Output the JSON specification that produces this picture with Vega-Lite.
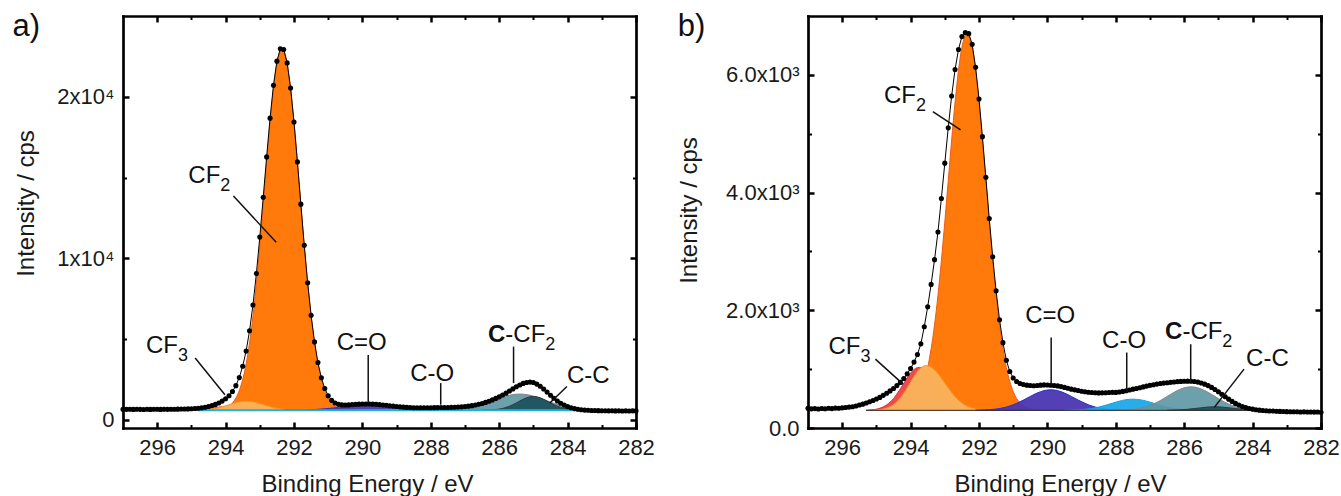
{
  "$schema": "https://vega.github.io/schema/vega-lite/v6.json",
  "background": "white",
  "padding": {"left": 12, "top": 11, "right": 6, "bottom": 0},
  "autosize": {"type": "pad"},
  "spacing": 172,
  "bounds": "flush",
  "config": {
    "view": {"stroke": null},
    "font": "Liberation Sans",
    "axis": {"grid": false, "labelFont": "Liberation Sans", "titleFont": "Liberation Sans", "labelFontSize": 22, "titleFontSize": 24, "titleFontWeight": "normal", "labelColor": "#1a1a1a", "titleColor": "#1a1a1a", "tickColor": "black", "domainColor": "black", "labelFlush": false, "labelOverlap": false, "labelBound": false},
    "text": {"font": "Liberation Sans", "color": "#111111"}
  },
  "datasets": {
    "specA": [
      {"be":297.0,"cps":665},{"be":296.9,"cps":655},{"be":296.8,"cps":660},{"be":296.7,"cps":650},{"be":296.6,"cps":662},{"be":296.5,"cps":655},{"be":296.4,"cps":648},{"be":296.3,"cps":660},{"be":296.2,"cps":652},{"be":296.1,"cps":665},
      {"be":296.0,"cps":658},{"be":295.9,"cps":650},{"be":295.8,"cps":662},{"be":295.7,"cps":655},{"be":295.6,"cps":665},{"be":295.5,"cps":662},{"be":295.4,"cps":668},{"be":295.3,"cps":672},{"be":295.2,"cps":675},{"be":295.1,"cps":682},
      {"be":295.0,"cps":690},{"be":294.9,"cps":705},{"be":294.8,"cps":720},{"be":294.7,"cps":748},{"be":294.6,"cps":785},{"be":294.5,"cps":832},{"be":294.4,"cps":890},{"be":294.3,"cps":960},{"be":294.2,"cps":1050},{"be":294.1,"cps":1165},
      {"be":294.0,"cps":1310},{"be":293.9,"cps":1500},{"be":293.8,"cps":1760},{"be":293.7,"cps":2120},{"be":293.6,"cps":2620},{"be":293.5,"cps":3320},{"be":293.4,"cps":4260},{"be":293.3,"cps":5516},{"be":293.2,"cps":7116},{"be":293.1,"cps":9062},
      {"be":293.0,"cps":11316},{"be":292.9,"cps":13778},{"be":292.8,"cps":16280},{"be":292.7,"cps":18679},{"be":292.6,"cps":20718},{"be":292.5,"cps":22205},{"be":292.4,"cps":22976},{"be":292.3,"cps":22931},{"be":292.2,"cps":22096},{"be":292.1,"cps":20540},
      {"be":292.0,"cps":18438},{"be":291.9,"cps":15971},{"be":291.8,"cps":13355},{"be":291.7,"cps":10813},{"be":291.6,"cps":8485},{"be":291.5,"cps":6475},{"be":291.4,"cps":4830},{"be":291.3,"cps":3552},{"be":291.2,"cps":2608},{"be":291.1,"cps":1943},
      {"be":291.0,"cps":1500},{"be":290.9,"cps":1212},{"be":290.8,"cps":1050},{"be":290.7,"cps":965},{"be":290.6,"cps":929},{"be":290.5,"cps":922},{"be":290.4,"cps":931},{"be":290.3,"cps":947},{"be":290.2,"cps":963},{"be":290.1,"cps":975},
      {"be":290.0,"cps":985},{"be":289.9,"cps":990},{"be":289.8,"cps":986},{"be":289.7,"cps":979},{"be":289.6,"cps":966},{"be":289.5,"cps":949},{"be":289.4,"cps":928},{"be":289.3,"cps":904},{"be":289.2,"cps":880},{"be":289.1,"cps":857},
      {"be":289.0,"cps":834},{"be":288.9,"cps":809},{"be":288.8,"cps":790},{"be":288.7,"cps":776},{"be":288.6,"cps":765},{"be":288.5,"cps":757},{"be":288.4,"cps":751},{"be":288.3,"cps":749},{"be":288.2,"cps":749},{"be":288.1,"cps":749},
      {"be":288.0,"cps":751},{"be":287.9,"cps":758},{"be":287.8,"cps":762},{"be":287.7,"cps":766},{"be":287.6,"cps":766},{"be":287.5,"cps":772},{"be":287.4,"cps":779},{"be":287.3,"cps":786},{"be":287.2,"cps":797},{"be":287.1,"cps":810},
      {"be":287.0,"cps":829},{"be":286.9,"cps":853},{"be":286.8,"cps":883},{"be":286.7,"cps":922},{"be":286.6,"cps":967},{"be":286.5,"cps":1020},{"be":286.4,"cps":1086},{"be":286.3,"cps":1159},{"be":286.2,"cps":1240},{"be":286.1,"cps":1331},
      {"be":286.0,"cps":1429},{"be":285.9,"cps":1538},{"be":285.8,"cps":1658},{"be":285.7,"cps":1786},{"be":285.6,"cps":1919},{"be":285.5,"cps":2052},{"be":285.4,"cps":2163},{"be":285.3,"cps":2260},{"be":285.2,"cps":2320},{"be":285.1,"cps":2340},
      {"be":285.0,"cps":2312},{"be":284.9,"cps":2216},{"be":284.8,"cps":2080},{"be":284.7,"cps":1911},{"be":284.6,"cps":1721},{"be":284.5,"cps":1528},{"be":284.4,"cps":1344},{"be":284.3,"cps":1173},{"be":284.2,"cps":1032},{"be":284.1,"cps":916},
      {"be":284.0,"cps":825},{"be":283.9,"cps":750},{"be":283.8,"cps":700},{"be":283.7,"cps":662},{"be":283.6,"cps":630},{"be":283.5,"cps":608},{"be":283.4,"cps":595},{"be":283.3,"cps":586},{"be":283.2,"cps":580},{"be":283.1,"cps":574},
      {"be":283.0,"cps":570},{"be":282.9,"cps":566},{"be":282.8,"cps":560},{"be":282.7,"cps":565},{"be":282.6,"cps":558},{"be":282.5,"cps":562},{"be":282.4,"cps":555},{"be":282.3,"cps":560},{"be":282.2,"cps":556},{"be":282.1,"cps":562},
      {"be":282.0,"cps":558}
    ],
    "specB": [
      {"be":297.0,"cps":335},{"be":296.9,"cps":325},{"be":296.8,"cps":330},{"be":296.7,"cps":322},{"be":296.6,"cps":332},{"be":296.5,"cps":328},{"be":296.4,"cps":335},{"be":296.3,"cps":330},{"be":296.2,"cps":338},{"be":296.1,"cps":335},
      {"be":296.0,"cps":342},{"be":295.9,"cps":348},{"be":295.8,"cps":355},{"be":295.7,"cps":362},{"be":295.6,"cps":375},{"be":295.5,"cps":390},{"be":295.4,"cps":405},{"be":295.3,"cps":425},{"be":295.2,"cps":445},{"be":295.1,"cps":468},
      {"be":295.0,"cps":492},{"be":294.9,"cps":520},{"be":294.8,"cps":555},{"be":294.7,"cps":590},{"be":294.6,"cps":630},{"be":294.5,"cps":672},{"be":294.4,"cps":720},{"be":294.3,"cps":775},{"be":294.2,"cps":840},{"be":294.1,"cps":920},
      {"be":294.0,"cps":1010},{"be":293.9,"cps":1120},{"be":293.8,"cps":1250},{"be":293.7,"cps":1430},{"be":293.6,"cps":1720},{"be":293.5,"cps":2060},{"be":293.4,"cps":2440},{"be":293.3,"cps":2860},{"be":293.2,"cps":3330},{"be":293.1,"cps":3900},
      {"be":293.0,"cps":4500},{"be":292.9,"cps":5100},{"be":292.8,"cps":5640},{"be":292.7,"cps":6090},{"be":292.6,"cps":6430},{"be":292.5,"cps":6650},{"be":292.4,"cps":6720},{"be":292.3,"cps":6700},{"be":292.2,"cps":6520},{"be":292.1,"cps":6130},
      {"be":292.0,"cps":5590},{"be":291.9,"cps":4950},{"be":291.8,"cps":4260},{"be":291.7,"cps":3560},{"be":291.6,"cps":2910},{"be":291.5,"cps":2330},{"be":291.4,"cps":1840},{"be":291.3,"cps":1450},{"be":291.2,"cps":1150},{"be":291.1,"cps":960},
      {"be":291.0,"cps":850},{"be":290.9,"cps":790},{"be":290.8,"cps":755},{"be":290.7,"cps":738},{"be":290.6,"cps":728},{"be":290.5,"cps":722},{"be":290.4,"cps":718},{"be":290.3,"cps":722},{"be":290.2,"cps":728},{"be":290.1,"cps":732},
      {"be":290.0,"cps":730},{"be":289.9,"cps":726},{"be":289.8,"cps":722},{"be":289.7,"cps":715},{"be":289.6,"cps":703},{"be":289.5,"cps":690},{"be":289.4,"cps":675},{"be":289.3,"cps":660},{"be":289.2,"cps":648},{"be":289.1,"cps":636},
      {"be":289.0,"cps":625},{"be":288.9,"cps":615},{"be":288.8,"cps":608},{"be":288.7,"cps":602},{"be":288.6,"cps":598},{"be":288.5,"cps":596},{"be":288.4,"cps":597},{"be":288.3,"cps":600},{"be":288.2,"cps":604},{"be":288.1,"cps":606},
      {"be":288.0,"cps":605},{"be":287.9,"cps":612},{"be":287.8,"cps":622},{"be":287.7,"cps":633},{"be":287.6,"cps":645},{"be":287.5,"cps":660},{"be":287.4,"cps":672},{"be":287.3,"cps":685},{"be":287.2,"cps":698},{"be":287.1,"cps":712},
      {"be":287.0,"cps":725},{"be":286.9,"cps":735},{"be":286.8,"cps":746},{"be":286.7,"cps":755},{"be":286.6,"cps":763},{"be":286.5,"cps":770},{"be":286.4,"cps":776},{"be":286.3,"cps":782},{"be":286.2,"cps":788},{"be":286.1,"cps":792},
      {"be":286.0,"cps":795},{"be":285.9,"cps":796},{"be":285.8,"cps":795},{"be":285.7,"cps":790},{"be":285.6,"cps":780},{"be":285.5,"cps":765},{"be":285.4,"cps":745},{"be":285.3,"cps":720},{"be":285.2,"cps":690},{"be":285.1,"cps":655},
      {"be":285.0,"cps":615},{"be":284.9,"cps":573},{"be":284.8,"cps":530},{"be":284.7,"cps":490},{"be":284.6,"cps":452},{"be":284.5,"cps":418},{"be":284.4,"cps":390},{"be":284.3,"cps":366},{"be":284.2,"cps":347},{"be":284.1,"cps":332},
      {"be":284.0,"cps":320},{"be":283.9,"cps":310},{"be":283.8,"cps":303},{"be":283.7,"cps":298},{"be":283.6,"cps":293},{"be":283.5,"cps":290},{"be":283.4,"cps":288},{"be":283.3,"cps":284},{"be":283.2,"cps":282},{"be":283.1,"cps":280},
      {"be":283.0,"cps":278},{"be":282.9,"cps":277},{"be":282.8,"cps":275},{"be":282.7,"cps":276},{"be":282.6,"cps":273},{"be":282.5,"cps":274},{"be":282.4,"cps":271},{"be":282.3,"cps":272},{"be":282.2,"cps":270},{"be":282.1,"cps":271},
      {"be":282.0,"cps":268}
    ],
    "fitA": [
      {"peak":"CF2","be":294.6,"cps":600},{"peak":"CF2","be":294.4,"cps":609},{"peak":"CF2","be":294.3,"cps":619},{"peak":"CF2","be":294.2,"cps":638},{"peak":"CF2","be":294.1,"cps":674},{"peak":"CF2","be":294.0,"cps":740},{"peak":"CF2","be":293.9,"cps":855},{"peak":"CF2","be":293.8,"cps":1045},{"peak":"CF2","be":293.7,"cps":1350},{"peak":"CF2","be":293.6,"cps":1817},{"peak":"CF2","be":293.5,"cps":2503},{"peak":"CF2","be":293.4,"cps":3466},{"peak":"CF2","be":293.3,"cps":4760},{"peak":"CF2","be":293.2,"cps":6418},{"peak":"CF2","be":293.1,"cps":8438},{"peak":"CF2","be":293.0,"cps":10774},{"peak":"CF2","be":292.9,"cps":13322},{"peak":"CF2","be":292.8,"cps":15927},{"peak":"CF2","be":292.7,"cps":18391},{"peak":"CF2","be":292.6,"cps":20494},{"peak":"CF2","be":292.5,"cps":22033},{"peak":"CF2","be":292.4,"cps":22846},{"peak":"CF2","be":292.35,"cps":22950},{"peak":"CF2","be":292.3,"cps":22846},{"peak":"CF2","be":292.2,"cps":22033},{"peak":"CF2","be":292.1,"cps":20494},{"peak":"CF2","be":292.0,"cps":18391},{"peak":"CF2","be":291.9,"cps":15927},{"peak":"CF2","be":291.8,"cps":13322},{"peak":"CF2","be":291.7,"cps":10774},{"peak":"CF2","be":291.6,"cps":8438},{"peak":"CF2","be":291.5,"cps":6418},{"peak":"CF2","be":291.4,"cps":4760},{"peak":"CF2","be":291.3,"cps":3466},{"peak":"CF2","be":291.2,"cps":2503},{"peak":"CF2","be":291.1,"cps":1817},{"peak":"CF2","be":291.0,"cps":1350},{"peak":"CF2","be":290.9,"cps":1045},{"peak":"CF2","be":290.8,"cps":855},{"peak":"CF2","be":290.7,"cps":740},{"peak":"CF2","be":290.6,"cps":674},{"peak":"CF2","be":290.5,"cps":638},{"peak":"CF2","be":290.4,"cps":619},{"peak":"CF2","be":290.3,"cps":609},{"peak":"CF2","be":290.1,"cps":600},
      {"peak":"CF3a","be":295.6,"cps":600},{"peak":"CF3a","be":295.4,"cps":604},{"peak":"CF3a","be":295.2,"cps":610},{"peak":"CF3a","be":295.0,"cps":624},{"peak":"CF3a","be":294.8,"cps":648},{"peak":"CF3a","be":294.6,"cps":688},{"peak":"CF3a","be":294.4,"cps":739},{"peak":"CF3a","be":294.2,"cps":792},{"peak":"CF3a","be":294.0,"cps":834},{"peak":"CF3a","be":293.8,"cps":850},{"peak":"CF3a","be":293.6,"cps":834},{"peak":"CF3a","be":293.4,"cps":792},{"peak":"CF3a","be":293.2,"cps":739},{"peak":"CF3a","be":293.0,"cps":688},{"peak":"CF3a","be":292.8,"cps":648},{"peak":"CF3a","be":292.6,"cps":624},{"peak":"CF3a","be":292.4,"cps":610},{"peak":"CF3a","be":292.2,"cps":604},{"peak":"CF3a","be":292.0,"cps":600},
      {"peak":"CF3b","be":295.2,"cps":600},{"peak":"CF3b","be":295.0,"cps":605},{"peak":"CF3b","be":294.8,"cps":613},{"peak":"CF3b","be":294.6,"cps":634},{"peak":"CF3b","be":294.4,"cps":680},{"peak":"CF3b","be":294.2,"cps":760},{"peak":"CF3b","be":294.0,"cps":875},{"peak":"CF3b","be":293.8,"cps":1004},{"peak":"CF3b","be":293.6,"cps":1109},{"peak":"CF3b","be":293.4,"cps":1150},{"peak":"CF3b","be":293.2,"cps":1109},{"peak":"CF3b","be":293.0,"cps":1004},{"peak":"CF3b","be":292.8,"cps":875},{"peak":"CF3b","be":292.6,"cps":760},{"peak":"CF3b","be":292.4,"cps":680},{"peak":"CF3b","be":292.2,"cps":634},{"peak":"CF3b","be":292.0,"cps":613},{"peak":"CF3b","be":291.8,"cps":605},{"peak":"CF3b","be":291.6,"cps":600},
      {"peak":"C=O","be":292.3,"cps":600},{"peak":"C=O","be":292.1,"cps":605},{"peak":"C=O","be":291.9,"cps":610},{"peak":"C=O","be":291.7,"cps":619},{"peak":"C=O","be":291.5,"cps":633},{"peak":"C=O","be":291.3,"cps":656},{"peak":"C=O","be":291.1,"cps":688},{"peak":"C=O","be":290.9,"cps":728},{"peak":"C=O","be":290.7,"cps":773},{"peak":"C=O","be":290.5,"cps":820},{"peak":"C=O","be":290.3,"cps":862},{"peak":"C=O","be":290.1,"cps":890},{"peak":"C=O","be":289.9,"cps":900},{"peak":"C=O","be":289.7,"cps":890},{"peak":"C=O","be":289.5,"cps":862},{"peak":"C=O","be":289.3,"cps":820},{"peak":"C=O","be":289.1,"cps":773},{"peak":"C=O","be":288.9,"cps":728},{"peak":"C=O","be":288.7,"cps":688},{"peak":"C=O","be":288.5,"cps":656},{"peak":"C=O","be":288.3,"cps":633},{"peak":"C=O","be":288.1,"cps":619},{"peak":"C=O","be":287.9,"cps":610},{"peak":"C=O","be":287.7,"cps":605},{"peak":"C=O","be":287.5,"cps":600},
      {"peak":"C-O","be":290.2,"cps":600},{"peak":"C-O","be":290.0,"cps":603},{"peak":"C-O","be":289.8,"cps":605},{"peak":"C-O","be":289.6,"cps":609},{"peak":"C-O","be":289.4,"cps":616},{"peak":"C-O","be":289.2,"cps":625},{"peak":"C-O","be":289.0,"cps":639},{"peak":"C-O","be":288.8,"cps":655},{"peak":"C-O","be":288.6,"cps":675},{"peak":"C-O","be":288.4,"cps":696},{"peak":"C-O","be":288.2,"cps":717},{"peak":"C-O","be":288.0,"cps":734},{"peak":"C-O","be":287.8,"cps":746},{"peak":"C-O","be":287.6,"cps":750},{"peak":"C-O","be":287.4,"cps":746},{"peak":"C-O","be":287.2,"cps":734},{"peak":"C-O","be":287.0,"cps":717},{"peak":"C-O","be":286.8,"cps":696},{"peak":"C-O","be":286.6,"cps":675},{"peak":"C-O","be":286.4,"cps":655},{"peak":"C-O","be":286.2,"cps":639},{"peak":"C-O","be":286.0,"cps":625},{"peak":"C-O","be":285.8,"cps":616},{"peak":"C-O","be":285.6,"cps":609},{"peak":"C-O","be":285.4,"cps":605},{"peak":"C-O","be":285.2,"cps":603},{"peak":"C-O","be":285.0,"cps":600},
      {"peak":"C-CF2","be":288.0,"cps":600},{"peak":"C-CF2","be":287.8,"cps":608},{"peak":"C-CF2","be":287.6,"cps":616},{"peak":"C-CF2","be":287.4,"cps":633},{"peak":"C-CF2","be":287.2,"cps":663},{"peak":"C-CF2","be":287.0,"cps":712},{"peak":"C-CF2","be":286.8,"cps":787},{"peak":"C-CF2","be":286.6,"cps":892},{"peak":"C-CF2","be":286.4,"cps":1025},{"peak":"C-CF2","be":286.2,"cps":1178},{"peak":"C-CF2","be":286.0,"cps":1335},{"peak":"C-CF2","be":285.8,"cps":1472},{"peak":"C-CF2","be":285.6,"cps":1566},{"peak":"C-CF2","be":285.4,"cps":1600},{"peak":"C-CF2","be":285.2,"cps":1566},{"peak":"C-CF2","be":285.0,"cps":1472},{"peak":"C-CF2","be":284.8,"cps":1335},{"peak":"C-CF2","be":284.6,"cps":1178},{"peak":"C-CF2","be":284.4,"cps":1025},{"peak":"C-CF2","be":284.2,"cps":892},{"peak":"C-CF2","be":284.0,"cps":787},{"peak":"C-CF2","be":283.8,"cps":712},{"peak":"C-CF2","be":283.6,"cps":663},{"peak":"C-CF2","be":283.4,"cps":633},{"peak":"C-CF2","be":283.2,"cps":616},{"peak":"C-CF2","be":283.0,"cps":608},{"peak":"C-CF2","be":282.8,"cps":600},
      {"peak":"C-C","be":286.5,"cps":600},{"peak":"C-C","be":286.3,"cps":612},{"peak":"C-C","be":286.1,"cps":641},{"peak":"C-C","be":285.9,"cps":711},{"peak":"C-C","be":285.7,"cps":848},{"peak":"C-C","be":285.5,"cps":1053},{"peak":"C-C","be":285.4,"cps":1168},{"peak":"C-C","be":285.3,"cps":1278},{"peak":"C-C","be":285.2,"cps":1369},{"peak":"C-C","be":285.1,"cps":1429},{"peak":"C-C","be":285.0,"cps":1450},{"peak":"C-C","be":284.9,"cps":1429},{"peak":"C-C","be":284.8,"cps":1369},{"peak":"C-C","be":284.7,"cps":1278},{"peak":"C-C","be":284.6,"cps":1168},{"peak":"C-C","be":284.5,"cps":1053},{"peak":"C-C","be":284.3,"cps":848},{"peak":"C-C","be":284.1,"cps":711},{"peak":"C-C","be":283.9,"cps":641},{"peak":"C-C","be":283.7,"cps":612},{"peak":"C-C","be":283.5,"cps":600}
    ],
    "fitB": [
      {"peak":"CF2","be":294.5,"cps":300},{"peak":"CF2","be":294.3,"cps":313},{"peak":"CF2","be":294.2,"cps":323},{"peak":"CF2","be":294.1,"cps":342},{"peak":"CF2","be":294.0,"cps":373},{"peak":"CF2","be":293.9,"cps":423},{"peak":"CF2","be":293.8,"cps":502},{"peak":"CF2","be":293.7,"cps":620},{"peak":"CF2","be":293.6,"cps":790},{"peak":"CF2","be":293.5,"cps":1028},{"peak":"CF2","be":293.4,"cps":1345},{"peak":"CF2","be":293.3,"cps":1752},{"peak":"CF2","be":293.2,"cps":2253},{"peak":"CF2","be":293.1,"cps":2840},{"peak":"CF2","be":293.0,"cps":3498},{"peak":"CF2","be":292.9,"cps":4195},{"peak":"CF2","be":292.8,"cps":4890},{"peak":"CF2","be":292.7,"cps":5535},{"peak":"CF2","be":292.6,"cps":6077},{"peak":"CF2","be":292.5,"cps":6468},{"peak":"CF2","be":292.4,"cps":6674},{"peak":"CF2","be":292.35,"cps":6700},{"peak":"CF2","be":292.3,"cps":6674},{"peak":"CF2","be":292.2,"cps":6468},{"peak":"CF2","be":292.1,"cps":6077},{"peak":"CF2","be":292.0,"cps":5535},{"peak":"CF2","be":291.9,"cps":4890},{"peak":"CF2","be":291.8,"cps":4195},{"peak":"CF2","be":291.7,"cps":3498},{"peak":"CF2","be":291.6,"cps":2840},{"peak":"CF2","be":291.5,"cps":2253},{"peak":"CF2","be":291.4,"cps":1752},{"peak":"CF2","be":291.3,"cps":1345},{"peak":"CF2","be":291.2,"cps":1028},{"peak":"CF2","be":291.1,"cps":790},{"peak":"CF2","be":291.0,"cps":620},{"peak":"CF2","be":290.9,"cps":502},{"peak":"CF2","be":290.8,"cps":423},{"peak":"CF2","be":290.7,"cps":373},{"peak":"CF2","be":290.6,"cps":342},{"peak":"CF2","be":290.5,"cps":323},{"peak":"CF2","be":290.4,"cps":313},{"peak":"CF2","be":290.2,"cps":300},
      {"peak":"CF3a","be":295.3,"cps":300},{"peak":"CF3a","be":295.2,"cps":306},{"peak":"CF3a","be":295.1,"cps":311},{"peak":"CF3a","be":295.0,"cps":320},{"peak":"CF3a","be":294.9,"cps":335},{"peak":"CF3a","be":294.8,"cps":359},{"peak":"CF3a","be":294.7,"cps":393},{"peak":"CF3a","be":294.6,"cps":440},{"peak":"CF3a","be":294.5,"cps":501},{"peak":"CF3a","be":294.4,"cps":577},{"peak":"CF3a","be":294.3,"cps":665},{"peak":"CF3a","be":294.2,"cps":759},{"peak":"CF3a","be":294.1,"cps":851},{"peak":"CF3a","be":294.0,"cps":933},{"peak":"CF3a","be":293.9,"cps":993},{"peak":"CF3a","be":293.8,"cps":1026},{"peak":"CF3a","be":293.75,"cps":1030},{"peak":"CF3a","be":293.7,"cps":1026},{"peak":"CF3a","be":293.6,"cps":993},{"peak":"CF3a","be":293.5,"cps":933},{"peak":"CF3a","be":293.4,"cps":851},{"peak":"CF3a","be":293.3,"cps":759},{"peak":"CF3a","be":293.2,"cps":665},{"peak":"CF3a","be":293.1,"cps":577},{"peak":"CF3a","be":293.0,"cps":501},{"peak":"CF3a","be":292.9,"cps":440},{"peak":"CF3a","be":292.8,"cps":393},{"peak":"CF3a","be":292.7,"cps":359},{"peak":"CF3a","be":292.6,"cps":335},{"peak":"CF3a","be":292.5,"cps":320},{"peak":"CF3a","be":292.4,"cps":311},{"peak":"CF3a","be":292.3,"cps":306},{"peak":"CF3a","be":292.2,"cps":300},
      {"peak":"CF3b","be":295.1,"cps":300},{"peak":"CF3b","be":295.0,"cps":306},{"peak":"CF3b","be":294.9,"cps":312},{"peak":"CF3b","be":294.8,"cps":321},{"peak":"CF3b","be":294.7,"cps":337},{"peak":"CF3b","be":294.6,"cps":361},{"peak":"CF3b","be":294.5,"cps":396},{"peak":"CF3b","be":294.4,"cps":445},{"peak":"CF3b","be":294.3,"cps":510},{"peak":"CF3b","be":294.2,"cps":589},{"peak":"CF3b","be":294.1,"cps":680},{"peak":"CF3b","be":294.0,"cps":778},{"peak":"CF3b","be":293.9,"cps":874},{"peak":"CF3b","be":293.8,"cps":959},{"peak":"CF3b","be":293.7,"cps":1022},{"peak":"CF3b","be":293.6,"cps":1056},{"peak":"CF3b","be":293.55,"cps":1060},{"peak":"CF3b","be":293.5,"cps":1057},{"peak":"CF3b","be":293.4,"cps":1032},{"peak":"CF3b","be":293.3,"cps":986},{"peak":"CF3b","be":293.2,"cps":922},{"peak":"CF3b","be":293.1,"cps":845},{"peak":"CF3b","be":293.0,"cps":762},{"peak":"CF3b","be":292.9,"cps":680},{"peak":"CF3b","be":292.8,"cps":602},{"peak":"CF3b","be":292.7,"cps":532},{"peak":"CF3b","be":292.6,"cps":472},{"peak":"CF3b","be":292.5,"cps":424},{"peak":"CF3b","be":292.4,"cps":386},{"peak":"CF3b","be":292.3,"cps":358},{"peak":"CF3b","be":292.2,"cps":338},{"peak":"CF3b","be":292.1,"cps":324},{"peak":"CF3b","be":292.0,"cps":315},{"peak":"CF3b","be":291.9,"cps":309},{"peak":"CF3b","be":291.8,"cps":300},
      {"peak":"C=O","be":292.1,"cps":300},{"peak":"C=O","be":291.9,"cps":305},{"peak":"C=O","be":291.7,"cps":311},{"peak":"C=O","be":291.5,"cps":322},{"peak":"C=O","be":291.3,"cps":342},{"peak":"C=O","be":291.1,"cps":374},{"peak":"C=O","be":290.9,"cps":419},{"peak":"C=O","be":290.7,"cps":475},{"peak":"C=O","be":290.5,"cps":537},{"peak":"C=O","be":290.3,"cps":594},{"peak":"C=O","be":290.1,"cps":635},{"peak":"C=O","be":289.9,"cps":650},{"peak":"C=O","be":289.7,"cps":635},{"peak":"C=O","be":289.5,"cps":594},{"peak":"C=O","be":289.3,"cps":537},{"peak":"C=O","be":289.1,"cps":475},{"peak":"C=O","be":288.9,"cps":419},{"peak":"C=O","be":288.7,"cps":374},{"peak":"C=O","be":288.5,"cps":342},{"peak":"C=O","be":288.3,"cps":322},{"peak":"C=O","be":288.1,"cps":311},{"peak":"C=O","be":287.9,"cps":305},{"peak":"C=O","be":287.7,"cps":300},
      {"peak":"C-O","be":289.5,"cps":300},{"peak":"C-O","be":289.3,"cps":303},{"peak":"C-O","be":289.1,"cps":308},{"peak":"C-O","be":288.9,"cps":317},{"peak":"C-O","be":288.7,"cps":332},{"peak":"C-O","be":288.5,"cps":355},{"peak":"C-O","be":288.3,"cps":386},{"peak":"C-O","be":288.1,"cps":422},{"peak":"C-O","be":287.9,"cps":456},{"peak":"C-O","be":287.7,"cps":481},{"peak":"C-O","be":287.5,"cps":490},{"peak":"C-O","be":287.3,"cps":481},{"peak":"C-O","be":287.1,"cps":456},{"peak":"C-O","be":286.9,"cps":422},{"peak":"C-O","be":286.7,"cps":386},{"peak":"C-O","be":286.5,"cps":355},{"peak":"C-O","be":286.3,"cps":332},{"peak":"C-O","be":286.1,"cps":317},{"peak":"C-O","be":285.9,"cps":308},{"peak":"C-O","be":285.7,"cps":303},{"peak":"C-O","be":285.5,"cps":300},
      {"peak":"C-CF2","be":288.0,"cps":300},{"peak":"C-CF2","be":287.8,"cps":305},{"peak":"C-CF2","be":287.6,"cps":312},{"peak":"C-CF2","be":287.4,"cps":325},{"peak":"C-CF2","be":287.2,"cps":348},{"peak":"C-CF2","be":287.0,"cps":384},{"peak":"C-CF2","be":286.8,"cps":435},{"peak":"C-CF2","be":286.6,"cps":500},{"peak":"C-CF2","be":286.4,"cps":571},{"peak":"C-CF2","be":286.2,"cps":636},{"peak":"C-CF2","be":286.0,"cps":683},{"peak":"C-CF2","be":285.8,"cps":700},{"peak":"C-CF2","be":285.6,"cps":683},{"peak":"C-CF2","be":285.4,"cps":636},{"peak":"C-CF2","be":285.2,"cps":571},{"peak":"C-CF2","be":285.0,"cps":500},{"peak":"C-CF2","be":284.8,"cps":435},{"peak":"C-CF2","be":284.6,"cps":384},{"peak":"C-CF2","be":284.4,"cps":348},{"peak":"C-CF2","be":284.2,"cps":325},{"peak":"C-CF2","be":284.0,"cps":312},{"peak":"C-CF2","be":283.8,"cps":305},{"peak":"C-CF2","be":283.6,"cps":300},
      {"peak":"C-C","be":286.5,"cps":300},{"peak":"C-C","be":286.3,"cps":304},{"peak":"C-C","be":286.1,"cps":309},{"peak":"C-C","be":285.9,"cps":318},{"peak":"C-C","be":285.7,"cps":330},{"peak":"C-C","be":285.5,"cps":344},{"peak":"C-C","be":285.3,"cps":356},{"peak":"C-C","be":285.1,"cps":360},{"peak":"C-C","be":284.9,"cps":356},{"peak":"C-C","be":284.7,"cps":344},{"peak":"C-C","be":284.5,"cps":330},{"peak":"C-C","be":284.3,"cps":318},{"peak":"C-C","be":284.1,"cps":309},{"peak":"C-C","be":283.9,"cps":304},{"peak":"C-C","be":283.7,"cps":300}
    ],
    "bgA": [{"be":294.8,"cps":600},{"be":283.7,"cps":600}],
    "bgB": [{"be":295.3,"cps":300},{"be":284.1,"cps":300}],
    "labelsA": [
      {"txt":"CF","be":295.09,"cps":14690},{"txt":"CF","be":296.33,"cps":4135},{"txt":"C=O","be":290.75,"cps":4330},
      {"txt":"C-O","be":288.6,"cps":2380},{"txt":"-CF","be":285.82,"cps":4845},{"txt":"C-C","be":284.02,"cps":2280}
    ],
    "subsA": [
      {"txt":"2","be":294.155,"cps":14195},{"txt":"3","be":295.395,"cps":3640},{"txt":"2","be":284.65,"cps":4350}
    ],
    "boldA": [{"txt":"C","be":286.33,"cps":4845}],
    "tagA": [{"txt":"a)","be":300.23,"cps":23762}],
    "leadA": [
      {"be":293.77,"cps":13860,"be2":292.52,"cps2":10990},{"be":294.89,"cps":3830,"be2":294.02,"cps2":1560},
      {"be":289.83,"cps":4020,"be2":289.83,"cps2":1050},{"be":287.71,"cps":2280,"be2":287.71,"cps2":945},
      {"be":285.58,"cps":4540,"be2":285.58,"cps2":2280},{"be":284.02,"cps":2070,"be2":284.52,"cps2":1050}
    ],
    "labelsB": [
      {"txt":"CF","be":294.78,"cps":5518},{"txt":"CF","be":296.4,"cps":1255},{"txt":"C=O","be":290.65,"cps":1790},
      {"txt":"C-O","be":288.4,"cps":1367},{"txt":"-CF","be":286.05,"cps":1508},{"txt":"C-C","be":284.19,"cps":1057}
    ],
    "subsB": [
      {"txt":"2","be":293.845,"cps":5382},{"txt":"3","be":295.465,"cps":1119},{"txt":"2","be":284.885,"cps":1372}
    ],
    "boldB": [{"txt":"C","be":286.56,"cps":1508}],
    "tagB": [{"txt":"b)","be":300.81,"cps":6660}],
    "leadB": [
      {"be":293.35,"cps":5377,"be2":292.54,"cps2":5066},{"be":295.03,"cps":1170,"be2":294.22,"cps2":746},
      {"be":289.89,"cps":1537,"be2":289.89,"cps2":717},{"be":287.68,"cps":1282,"be2":287.68,"cps2":605},
      {"be":285.81,"cps":1423,"be2":285.81,"cps2":775},{"be":284.25,"cps":1000,"be2":285.12,"cps2":350}
    ]
  },
  "hconcat": [
    {
      "width": 513,
      "height": 412,
      "resolve": {"axis": {"x": "independent", "y": "independent"}},
      "layer": [
        {
          "data": {"name": "fitA"},
          "mark": {"type": "area", "interpolate": "monotone", "strokeWidth": 1},
          "encoding": {
            "x": {"field": "be", "type": "quantitative", "scale": {"domain": [282, 297], "reverse": true, "nice": false, "zero": false},
                  "axis": {"orient": "bottom", "values": [282, 284, 286, 288, 290, 292, 294, 296], "format": "d", "ticks": false, "domain": false, "labelPadding": 9, "title": "Binding Energy / eV", "titleX": 244, "titleY": 63, "titleBaseline": "alphabetic"}},
            "y": {"field": "cps", "type": "quantitative", "stack": null, "scale": {"domain": [-500, 25000], "nice": false, "zero": false},
                  "axis": {"orient": "left", "values": [0, 10000, 20000], "labelExpr": "datum.value == 0 ? '0' : (datum.value / 10000) + 'x10⁴'", "ticks": false, "domain": false, "labelPadding": 9, "title": "Intensity / cps", "titleX": -90, "titleY": 187, "titleAngle": -90, "titleBaseline": "alphabetic"}},
            "y2": {"datum": 600},
            "fill": {"field": "peak", "type": "nominal", "legend": null, "scale": {"domain": ["CF2", "CF3a", "CF3b", "C=O", "C-O", "C-CF2", "C-C"], "range": ["#ff7a0a", "#f04848", "#f9b25a", "#4a36b0", "#1aa7e8", "#5f98a3", "#184f5a"]}},
            "stroke": {"field": "peak", "type": "nominal", "legend": null, "scale": {"domain": ["CF2", "CF3a", "CF3b", "C=O", "C-O", "C-CF2", "C-C"], "range": ["#f05a14", "#e83030", "#f39a2c", "#2a2ad0", "#12a0e0", "#858585", "#2e3a3c"]}},
            "fillOpacity": {"field": "peak", "type": "nominal", "legend": null, "scale": {"domain": ["CF2", "CF3a", "CF3b", "C=O", "C-O", "C-CF2", "C-C"], "range": [1, 0.9, 0.95, 0.9, 0.85, 0.9, 0.92]}}
          }
        },
        {
          "data": {"name": "bgA"},
          "mark": {"type": "line", "color": "#1db4d8", "strokeWidth": 2},
          "encoding": {
            "x": {"field": "be", "type": "quantitative", "scale": {"domain": [282, 297], "reverse": true, "nice": false, "zero": false},
                  "axis": {"orient": "bottom", "values": [282, 284, 286, 288, 290, 292, 294, 296], "labels": false, "title": null, "domain": true, "domainWidth": 2.7, "domainCap": "square", "tickSize": -6, "tickWidth": 2.5, "zindex": 1}},
            "y": {"field": "cps", "type": "quantitative", "scale": {"domain": [-500, 25000], "nice": false, "zero": false},
                  "axis": {"orient": "left", "values": [0, 10000, 20000], "labels": false, "title": null, "domain": true, "domainWidth": 2.7, "domainCap": "square", "tickSize": -6, "tickWidth": 2.5, "zindex": 1}}
          }
        },
        {
          "data": {"name": "specA"},
          "mark": {"type": "line", "color": "black", "strokeWidth": 1},
          "encoding": {
            "x": {"field": "be", "type": "quantitative", "scale": {"domain": [282, 297], "reverse": true, "nice": false, "zero": false},
                  "axis": {"orient": "bottom", "values": [283, 285, 287, 289, 291, 293, 295], "labels": false, "title": null, "domain": false, "tickSize": -3.5, "tickWidth": 2, "zindex": 1}},
            "y": {"field": "cps", "type": "quantitative", "scale": {"domain": [-500, 25000], "nice": false, "zero": false},
                  "axis": {"orient": "left", "values": [5000, 15000], "labels": false, "title": null, "domain": false, "tickSize": -3.5, "tickWidth": 2, "zindex": 1}}
          }
        },
        {
          "data": {"name": "specA"},
          "mark": {"type": "circle", "size": 26, "color": "black", "opacity": 1},
          "encoding": {
            "x": {"field": "be", "type": "quantitative", "scale": {"domain": [282, 297], "reverse": true, "nice": false, "zero": false},
                  "axis": {"orient": "top", "values": [282, 284, 286, 288, 290, 292, 294, 296], "labels": false, "title": null, "domain": true, "domainWidth": 2.7, "domainCap": "square", "tickSize": -6, "tickWidth": 2.5, "zindex": 1}},
            "y": {"field": "cps", "type": "quantitative", "scale": {"domain": [-500, 25000], "nice": false, "zero": false},
                  "axis": {"orient": "right", "values": [0, 10000, 20000], "labels": false, "title": null, "domain": true, "domainWidth": 2.7, "domainCap": "square", "tickSize": -6, "tickWidth": 2.5, "zindex": 1}}
          }
        },
        {
          "data": {"name": "leadA"},
          "mark": {"type": "rule", "color": "#111111", "strokeWidth": 1.5},
          "encoding": {
            "x": {"field": "be", "type": "quantitative", "scale": {"domain": [282, 297], "reverse": true, "nice": false, "zero": false},
                  "axis": {"orient": "top", "values": [283, 285, 287, 289, 291, 293, 295], "labels": false, "title": null, "domain": false, "tickSize": -3.5, "tickWidth": 2, "zindex": 1}},
            "y": {"field": "cps", "type": "quantitative", "scale": {"domain": [-500, 25000], "nice": false, "zero": false},
                  "axis": {"orient": "right", "values": [5000, 15000], "labels": false, "title": null, "domain": false, "tickSize": -3.5, "tickWidth": 2, "zindex": 1}},
            "x2": {"field": "be2"},
            "y2": {"field": "cps2"}
          }
        },
        {
          "data": {"name": "labelsA"},
          "mark": {"type": "text", "align": "left", "baseline": "alphabetic", "fontSize": 24},
          "encoding": {
            "x": {"field": "be", "type": "quantitative", "scale": {"domain": [282, 297], "reverse": true, "nice": false, "zero": false}, "axis": null},
            "y": {"field": "cps", "type": "quantitative", "scale": {"domain": [-500, 25000], "nice": false, "zero": false}, "axis": null},
            "text": {"field": "txt"}
          }
        },
        {
          "data": {"name": "subsA"},
          "mark": {"type": "text", "align": "left", "baseline": "alphabetic", "fontSize": 18},
          "encoding": {
            "x": {"field": "be", "type": "quantitative", "scale": {"domain": [282, 297], "reverse": true, "nice": false, "zero": false}, "axis": null},
            "y": {"field": "cps", "type": "quantitative", "scale": {"domain": [-500, 25000], "nice": false, "zero": false}, "axis": null},
            "text": {"field": "txt"}
          }
        },
        {
          "data": {"name": "boldA"},
          "mark": {"type": "text", "align": "left", "baseline": "alphabetic", "fontSize": 24, "fontWeight": "bold"},
          "encoding": {
            "x": {"field": "be", "type": "quantitative", "scale": {"domain": [282, 297], "reverse": true, "nice": false, "zero": false}, "axis": null},
            "y": {"field": "cps", "type": "quantitative", "scale": {"domain": [-500, 25000], "nice": false, "zero": false}, "axis": null},
            "text": {"field": "txt"}
          }
        },
        {
          "data": {"name": "tagA"},
          "mark": {"type": "text", "align": "left", "baseline": "alphabetic", "fontSize": 31},
          "encoding": {
            "x": {"field": "be", "type": "quantitative", "scale": {"domain": [282, 297], "reverse": true, "nice": false, "zero": false}, "axis": null},
            "y": {"field": "cps", "type": "quantitative", "scale": {"domain": [-500, 25000], "nice": false, "zero": false}, "axis": null},
            "text": {"field": "txt"}
          }
        }
      ]
    },
    {
      "width": 513,
      "height": 412,
      "resolve": {"axis": {"x": "independent", "y": "independent"}},
      "layer": [
        {
          "data": {"name": "fitB"},
          "mark": {"type": "area", "interpolate": "monotone", "strokeWidth": 1},
          "encoding": {
            "x": {"field": "be", "type": "quantitative", "scale": {"domain": [282, 297], "reverse": true, "nice": false, "zero": false},
                  "axis": {"orient": "bottom", "values": [282, 284, 286, 288, 290, 292, 294, 296], "format": "d", "ticks": false, "domain": false, "labelPadding": 9, "title": "Binding Energy / eV", "titleX": 252, "titleY": 63, "titleBaseline": "alphabetic"}},
            "y": {"field": "cps", "type": "quantitative", "stack": null, "scale": {"domain": [0, 7000], "nice": false, "zero": false},
                  "axis": {"orient": "left", "values": [0, 2000, 4000, 6000], "labelExpr": "datum.value == 0 ? '0.0' : format(datum.value / 1000, '.1f') + 'x10³'", "ticks": false, "domain": false, "labelPadding": 9, "title": "Intensity / cps", "titleX": -112, "titleY": 194, "titleAngle": -90, "titleBaseline": "alphabetic"}},
            "y2": {"datum": 300},
            "fill": {"field": "peak", "type": "nominal", "legend": null, "scale": {"domain": ["CF2", "CF3a", "CF3b", "C=O", "C-O", "C-CF2", "C-C"], "range": ["#ff7a0a", "#f04848", "#f9b25a", "#4a36b0", "#1aa7e8", "#5f98a3", "#184f5a"]}},
            "stroke": {"field": "peak", "type": "nominal", "legend": null, "scale": {"domain": ["CF2", "CF3a", "CF3b", "C=O", "C-O", "C-CF2", "C-C"], "range": ["#f05a14", "#e83030", "#f39a2c", "#2a2ad0", "#12a0e0", "#858585", "#2e3a3c"]}},
            "fillOpacity": {"field": "peak", "type": "nominal", "legend": null, "scale": {"domain": ["CF2", "CF3a", "CF3b", "C=O", "C-O", "C-CF2", "C-C"], "range": [1, 0.9, 0.95, 0.9, 0.85, 0.9, 0.92]}}
          }
        },
        {
          "data": {"name": "bgB"},
          "mark": {"type": "line", "color": "#333333", "strokeWidth": 1},
          "encoding": {
            "x": {"field": "be", "type": "quantitative", "scale": {"domain": [282, 297], "reverse": true, "nice": false, "zero": false},
                  "axis": {"orient": "bottom", "values": [282, 284, 286, 288, 290, 292, 294, 296], "labels": false, "title": null, "domain": true, "domainWidth": 2.7, "domainCap": "square", "tickSize": -6, "tickWidth": 2.5, "zindex": 1}},
            "y": {"field": "cps", "type": "quantitative", "scale": {"domain": [0, 7000], "nice": false, "zero": false},
                  "axis": {"orient": "left", "values": [0, 2000, 4000, 6000], "labels": false, "title": null, "domain": true, "domainWidth": 2.7, "domainCap": "square", "tickSize": -6, "tickWidth": 2.5, "zindex": 1}}
          }
        },
        {
          "data": {"name": "specB"},
          "mark": {"type": "line", "color": "black", "strokeWidth": 1},
          "encoding": {
            "x": {"field": "be", "type": "quantitative", "scale": {"domain": [282, 297], "reverse": true, "nice": false, "zero": false},
                  "axis": {"orient": "bottom", "values": [283, 285, 287, 289, 291, 293, 295], "labels": false, "title": null, "domain": false, "tickSize": -3.5, "tickWidth": 2, "zindex": 1}},
            "y": {"field": "cps", "type": "quantitative", "scale": {"domain": [0, 7000], "nice": false, "zero": false},
                  "axis": {"orient": "left", "values": [1000, 3000, 5000], "labels": false, "title": null, "domain": false, "tickSize": -3.5, "tickWidth": 2, "zindex": 1}}
          }
        },
        {
          "data": {"name": "specB"},
          "mark": {"type": "circle", "size": 26, "color": "black", "opacity": 1},
          "encoding": {
            "x": {"field": "be", "type": "quantitative", "scale": {"domain": [282, 297], "reverse": true, "nice": false, "zero": false},
                  "axis": {"orient": "top", "values": [282, 284, 286, 288, 290, 292, 294, 296], "labels": false, "title": null, "domain": true, "domainWidth": 2.7, "domainCap": "square", "tickSize": -6, "tickWidth": 2.5, "zindex": 1}},
            "y": {"field": "cps", "type": "quantitative", "scale": {"domain": [0, 7000], "nice": false, "zero": false},
                  "axis": {"orient": "right", "values": [0, 2000, 4000, 6000], "labels": false, "title": null, "domain": true, "domainWidth": 2.7, "domainCap": "square", "tickSize": -6, "tickWidth": 2.5, "zindex": 1}}
          }
        },
        {
          "data": {"name": "leadB"},
          "mark": {"type": "rule", "color": "#111111", "strokeWidth": 1.5},
          "encoding": {
            "x": {"field": "be", "type": "quantitative", "scale": {"domain": [282, 297], "reverse": true, "nice": false, "zero": false},
                  "axis": {"orient": "top", "values": [283, 285, 287, 289, 291, 293, 295], "labels": false, "title": null, "domain": false, "tickSize": -3.5, "tickWidth": 2, "zindex": 1}},
            "y": {"field": "cps", "type": "quantitative", "scale": {"domain": [0, 7000], "nice": false, "zero": false},
                  "axis": {"orient": "right", "values": [1000, 3000, 5000], "labels": false, "title": null, "domain": false, "tickSize": -3.5, "tickWidth": 2, "zindex": 1}},
            "x2": {"field": "be2"},
            "y2": {"field": "cps2"}
          }
        },
        {
          "data": {"name": "labelsB"},
          "mark": {"type": "text", "align": "left", "baseline": "alphabetic", "fontSize": 24},
          "encoding": {
            "x": {"field": "be", "type": "quantitative", "scale": {"domain": [282, 297], "reverse": true, "nice": false, "zero": false}, "axis": null},
            "y": {"field": "cps", "type": "quantitative", "scale": {"domain": [0, 7000], "nice": false, "zero": false}, "axis": null},
            "text": {"field": "txt"}
          }
        },
        {
          "data": {"name": "subsB"},
          "mark": {"type": "text", "align": "left", "baseline": "alphabetic", "fontSize": 18},
          "encoding": {
            "x": {"field": "be", "type": "quantitative", "scale": {"domain": [282, 297], "reverse": true, "nice": false, "zero": false}, "axis": null},
            "y": {"field": "cps", "type": "quantitative", "scale": {"domain": [0, 7000], "nice": false, "zero": false}, "axis": null},
            "text": {"field": "txt"}
          }
        },
        {
          "data": {"name": "boldB"},
          "mark": {"type": "text", "align": "left", "baseline": "alphabetic", "fontSize": 24, "fontWeight": "bold"},
          "encoding": {
            "x": {"field": "be", "type": "quantitative", "scale": {"domain": [282, 297], "reverse": true, "nice": false, "zero": false}, "axis": null},
            "y": {"field": "cps", "type": "quantitative", "scale": {"domain": [0, 7000], "nice": false, "zero": false}, "axis": null},
            "text": {"field": "txt"}
          }
        },
        {
          "data": {"name": "tagB"},
          "mark": {"type": "text", "align": "left", "baseline": "alphabetic", "fontSize": 31},
          "encoding": {
            "x": {"field": "be", "type": "quantitative", "scale": {"domain": [282, 297], "reverse": true, "nice": false, "zero": false}, "axis": null},
            "y": {"field": "cps", "type": "quantitative", "scale": {"domain": [0, 7000], "nice": false, "zero": false}, "axis": null},
            "text": {"field": "txt"}
          }
        }
      ]
    }
  ]
}
